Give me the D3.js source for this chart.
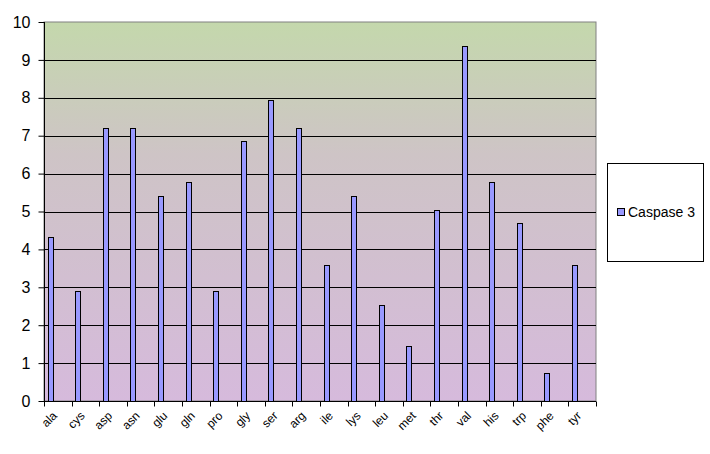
<!DOCTYPE html>
<html><head><meta charset="utf-8">
<script src="https://cdn.jsdelivr.net/npm/d3@7"></script>
<style>body{margin:0;background:#fff}svg{display:block}text{font-family:Arial,"Liberation Sans",sans-serif}</style>
</head><body>
<script>
const categories = ["ala","cys","asp","asn","glu","gln","pro","gly","ser","arg","ile","lys","leu","met","thr","val","his","trp","phe","tyr"];
const caspase3 = [4.33,2.9,7.2,7.2,5.4,5.78,2.9,6.86,7.95,7.2,3.6,5.4,2.53,1.45,5.04,9.37,5.78,4.7,0.74,3.6];
const yTicks = [0,1,2,3,4,5,6,7,8,9,10];
const seriesName = "Caspase 3";

const W = 710, H = 454;
const m = {left:44, top:22, right:596, bottom:401};
const svg = d3.select("body").append("svg").attr("width",W).attr("height",H);
const defs = svg.append("defs");
const g = defs.append("linearGradient").attr("id","bg").attr("x1",0).attr("y1",0).attr("x2",0).attr("y2",1);
g.append("stop").attr("offset","0%").attr("stop-color","#c4d8ac");
g.append("stop").attr("offset","35%").attr("stop-color","#cec4c6");
g.append("stop").attr("offset","100%").attr("stop-color","#d6badc");

const x = d3.scaleBand().domain(categories).range([m.left,m.right]).padding(0);
const y = d3.scaleLinear().domain([0,10]).range([m.bottom,m.top]);

svg.append("rect").attr("x",m.left).attr("y",m.top).attr("width",m.right-m.left).attr("height",m.bottom-m.top)
  .attr("fill","url(#bg)").attr("stroke","#808080").attr("stroke-width",1);

svg.append("g").selectAll("line").data(yTicks.filter(d=>d>0&&d<10)).join("line")
  .attr("x1",m.left).attr("x2",m.right).attr("y1",d=>Math.round(y(d))+0.5).attr("y2",d=>Math.round(y(d))+0.5)
  .attr("stroke","#000").attr("stroke-width",1);

const bw = 5;
svg.append("g").selectAll("rect").data(categories).join("rect")
  .attr("x",(d)=>Math.round(x(d)+3.5)+0.5)
  .attr("y",(d,i)=>Math.round(y(caspase3[i]))+0.5)
  .attr("width",bw)
  .attr("height",(d,i)=>Math.round(y(0))-Math.round(y(caspase3[i])))
  .attr("fill","#9999ff").attr("stroke","#000").attr("stroke-width",1);

// y axis
const ya = svg.append("g").attr("transform",`translate(${m.left+0.5},0)`)
  .call(d3.axisLeft(y).tickValues(yTicks).tickSize(6).tickPadding(8).tickFormat(d3.format("d")));
ya.select(".domain").attr("stroke","#000").attr("d",`M0,${m.top}V${m.bottom}`);
ya.selectAll(".tick line").attr("stroke","#000");
ya.selectAll(".tick text").attr("font-size",16).attr("fill","#000").attr("font-family","Arial, 'Liberation Sans', sans-serif");

// x axis
const xa = svg.append("g").attr("transform",`translate(0,${m.bottom+0.5})`);
xa.append("line").attr("x1",m.left).attr("x2",m.right).attr("stroke","#000");
xa.selectAll("line.t").data(categories.concat(["_end"])).join("line").attr("class","t")
  .attr("x1",(d,i)=>Math.round(m.left + i*x.bandwidth())+0.5).attr("x2",(d,i)=>Math.round(m.left + i*x.bandwidth())+0.5)
  .attr("y1",0).attr("y2",5).attr("stroke","#000");
xa.selectAll("text").data(categories).join("text")
  .attr("transform",d=>`translate(${x(d)+x.bandwidth()/2},${15}) rotate(-45)`)
  .attr("text-anchor","end").attr("font-size",12).attr("fill","#000").text(d=>d);

// legend
const lg = svg.append("g");
lg.append("rect").attr("x",607.5).attr("y",163.5).attr("width",96).attr("height",98).attr("fill","#fff").attr("stroke","#000");
lg.append("rect").attr("x",617.5).attr("y",208.5).attr("width",7).attr("height",7).attr("fill","#9999ff").attr("stroke","#000");
lg.append("text").attr("x",628).attr("y",217).attr("font-size",14).attr("fill","#000").text(seriesName);
</script>
</body></html>
